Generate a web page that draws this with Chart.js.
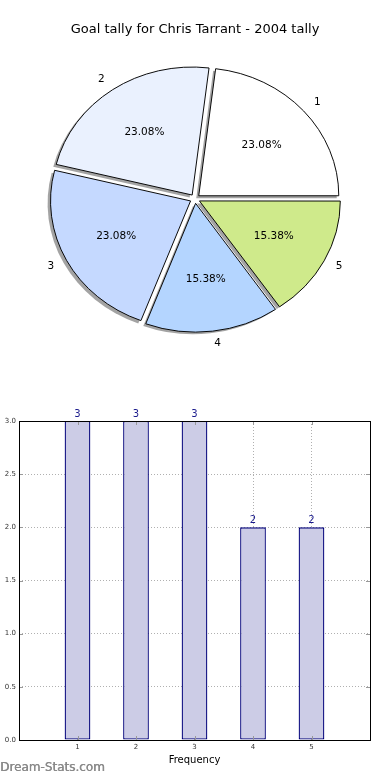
<!DOCTYPE html>
<html>
<head>
<meta charset="utf-8">
<script src="https://cdn.jsdelivr.net/npm/chart.js@4/dist/chart.umd.min.js"></script>
<style>
  html, body { margin: 0; padding: 0; background: #ffffff; }
  #wrap { position: relative; width: 390px; height: 780px; overflow: hidden; }
  canvas { position: absolute; left: 0; }
  #pie { top: 0; }
  #bar { top: 380px; }
</style>
</head>
<body>
<div id="wrap">
  <canvas id="pie" width="390" height="380"></canvas>
  <canvas id="bar" width="390" height="400"></canvas>
</div>
<script>
// ---- data ----
const chartTitle = 'Goal tally for Chris Tarrant - 2004 tally';
const sliceLabels = ['1', '2', '3', '4', '5'];
const sliceValues = [3, 3, 3, 2, 2];
const sliceColors = ['#ffffff', '#eaf1fe', '#c5d9ff', '#b4d5ff', '#cfea8b'];

const barCategories = [1, 2, 3, 4, 5];
const barValues = [3, 3, 3, 2, 2];
const xTickLabels = ['1', '2', '3', '4', '5'];
const yTickLabels = ['0.0', '0.5', '1.0', '1.5', '2.0', '2.5', '3.0'];
const xAxisLabel = 'Frequency';
const watermark = 'Dream-Stats.com';

const FONT = '"DejaVu Sans", sans-serif';
Chart.defaults.font.family = FONT;

// ---- pie ----
const Y_SQUASH = 0.914;   // matplotlib axes were not square: the pie is an ellipse
const PIE_OFFSET = 20;    // Chart.js translates arcs by offset/4
const PIE_R = 140;
const SHADOW_DX = -2.5, SHADOW_DY = 2.5;

// matplotlib draws counter-clockwise from 3 o'clock; Chart.js clockwise -> reverse order
const pieLabelsCJ = sliceLabels.slice().reverse();
const pieValuesCJ = sliceValues.slice().reverse();
const pieColorsCJ = sliceColors.slice().reverse();
const total = sliceValues.reduce((a, b) => a + b, 0);

function ellipseTransform(ctx, chart) {
  const a = chart.chartArea;
  const cx = (a.left + a.right) / 2, cy = (a.top + a.bottom) / 2;
  ctx.translate(cx, cy);
  ctx.scale(1, Y_SQUASH);
  ctx.translate(-cx, -cy);
}

const ellipsePlugin = {
  id: 'ellipse',
  beforeDatasetsDraw(chart) {
    const ctx = chart.ctx;
    const meta = chart.getDatasetMeta(0);
    const d = PIE_OFFSET / 4;
    // shadows (from the arc elements' geometry)
    ctx.save();
    ctx.translate(SHADOW_DX, SHADOW_DY);
    ellipseTransform(ctx, chart);
    ctx.fillStyle = 'rgba(0,0,0,0.36)';
    meta.data.forEach(el => {
      const mid = (el.startAngle + el.endAngle) / 2;
      const ox = Math.cos(mid) * d, oy = Math.sin(mid) * d;
      ctx.beginPath();
      ctx.moveTo(el.x + ox, el.y + oy);
      ctx.arc(el.x + ox, el.y + oy, el.outerRadius + 0.5, el.startAngle, el.endAngle);
      ctx.closePath();
      ctx.fill();
    });
    ctx.restore();
    ctx.save();
    ellipseTransform(ctx, chart);
  },
  afterDatasetsDraw(chart) {
    chart.ctx.restore();
  },
  afterDraw(chart) {
    const ctx = chart.ctx;
    const meta = chart.getDatasetMeta(0);
    const d = PIE_OFFSET / 4;
    ctx.save();
    ctx.fillStyle = '#000';
    ctx.textBaseline = 'middle';
    ctx.font = '10.5px ' + FONT;
    meta.data.forEach((el, i) => {
      const mid = (el.startAngle + el.endAngle) / 2;
      const R = el.outerRadius;
      const c = Math.cos(mid), s = Math.sin(mid);
      const lr = d + 1.1 * R;
      ctx.textAlign = c > 0 ? 'left' : 'right';
      ctx.fillText(pieLabelsCJ[i], el.x + c * lr, el.y + Y_SQUASH * s * lr);
      const pr = d + 0.6 * R;
      ctx.textAlign = 'center';
      ctx.fillText((pieValuesCJ[i] / total * 100).toFixed(2) + '%', el.x + c * pr, el.y + Y_SQUASH * s * pr);
    });
    ctx.restore();
  }
};

new Chart(document.getElementById('pie'), {
  type: 'pie',
  data: {
    labels: pieLabelsCJ,
    datasets: [{
      data: pieValuesCJ,
      backgroundColor: pieColorsCJ,
      borderColor: '#000000',
      borderWidth: 1,
      offset: PIE_OFFSET,
      hoverOffset: PIE_OFFSET
    }]
  },
  options: {
    responsive: false,
    animation: false,
    radius: PIE_R,
    rotation: 90,
    layout: { padding: { top: 0, bottom: 20, left: 0, right: 0 } },
    plugins: {
      legend: { display: false },
      tooltip: { enabled: false },
      title: {
        display: true,
        text: chartTitle,
        color: '#000',
        font: { size: 13, weight: 'normal', family: FONT },
        padding: { top: 22, bottom: 0 }
      }
    }
  },
  plugins: [ellipsePlugin]
});

// ---- bar ----
const barDecor = {
  id: 'barDecor',
  afterDraw(chart) {
    const ctx = chart.ctx;
    const a = chart.chartArea;
    const xs = chart.scales.x, ys = chart.scales.y;
    ctx.save();
    // inward ticks
    ctx.strokeStyle = '#999';
    ctx.lineWidth = 1;
    ctx.beginPath();
    barCategories.forEach(v => {
      const x = Math.round(xs.getPixelForValue(v)) + 0.5;
      ctx.moveTo(x, a.top); ctx.lineTo(x, a.top + 4);
      ctx.moveTo(x, a.bottom); ctx.lineTo(x, a.bottom - 4);
    });
    yTickLabels.forEach(t => {
      const y = Math.round(ys.getPixelForValue(parseFloat(t))) + 0.5;
      ctx.moveTo(a.left, y); ctx.lineTo(a.left + 4, y);
      ctx.moveTo(a.right, y); ctx.lineTo(a.right - 4, y);
    });
    ctx.stroke();
    // box
    ctx.strokeStyle = '#000';
    ctx.strokeRect(Math.round(a.left) + 0.5, Math.round(a.top) + 0.5,
                   Math.round(a.right - a.left), Math.round(a.bottom - a.top));
    // value labels
    const meta = chart.getDatasetMeta(0);
    ctx.fillStyle = '#1a1a8c';
    ctx.font = '10px ' + FONT;
    ctx.textAlign = 'center';
    ctx.textBaseline = 'alphabetic';
    meta.data.forEach((el, i) => {
      ctx.fillText(String(barValues[i]), el.x, el.y - 4);
    });
    // axis label
    ctx.fillStyle = '#000';
    ctx.font = '10px ' + FONT;
    ctx.textBaseline = 'middle';
    ctx.fillText(xAxisLabel, (a.left + a.right) / 2, 380);
    // watermark
    ctx.fillStyle = '#8a8a8a';
    ctx.font = '12px ' + FONT;
    ctx.textAlign = 'left';
    ctx.fillText(watermark, 0, 388);
    ctx.fillText(watermark, 0.4, 388);
    ctx.restore();
  }
};

new Chart(document.getElementById('bar'), {
  type: 'bar',
  data: {
    datasets: [{
      data: barCategories.map((c, i) => ({ x: c, y: barValues[i] })),
      backgroundColor: '#ccccE6',
      borderColor: '#00007a',
      borderWidth: 1.3,
      borderSkipped: false,
      barPercentage: 0.44,
      categoryPercentage: 1
    }]
  },
  options: {
    responsive: false,
    animation: false,
    layout: { padding: { top: 41, right: 20, left: 0, bottom: 0 } },
    plugins: { legend: { display: false }, tooltip: { enabled: false }, title: { display: false } },
    scales: {
      x: {
        type: 'linear',
        min: 0, max: 6,
        offset: false,
        z: 1,
        afterFit(s) { s.height = 40; },
        ticks: {
          stepSize: 1,
          padding: 3,
          color: '#333',
          font: { size: 7 },
          callback: (v) => { const i = barCategories.indexOf(v); return i >= 0 ? xTickLabels[i] : ''; }
        },
        grid: { offset: false, color: '#b0b0b0', lineWidth: 1, drawTicks: false },
        border: { display: false, dash: [1, 2] }
      },
      y: {
        min: 0, max: 3,
        z: 1,
        afterFit(s) { s.width = 19; },
        ticks: {
          stepSize: 0.5,
          padding: 3,
          color: '#333',
          font: { size: 7 },
          callback: (v) => { const t = v.toFixed(1); return yTickLabels.includes(t) ? t : ''; }
        },
        grid: { color: '#b0b0b0', lineWidth: 1, drawTicks: false },
        border: { display: false, dash: [1, 2] }
      }
    }
  },
  plugins: [barDecor]
});
</script>
</body>
</html>
